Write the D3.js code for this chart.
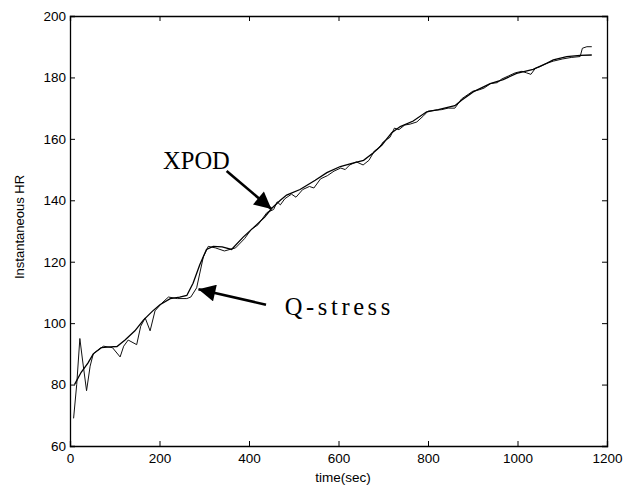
<!DOCTYPE html>
<html>
<head>
<meta charset="utf-8">
<script src="https://cdn.jsdelivr.net/npm/d3@7"></script>
<style>
  body { margin: 0; background: #fff; }
  svg { display: block; }
  .tick text { font-family: "Liberation Sans", Arial, sans-serif; font-size: 13.5px; fill: #000; }
</style>
</head>
<body>
<svg></svg>
<script>
  let w = 633;
  let h = 490;
  let margin = {left: 70, right: 26, top: 16, bottom: 44};

// data: [time (sec), instantaneous HR]
const xpodTime = [10, 25, 40, 52, 70, 90, 105, 123, 145, 164, 185, 201, 224, 245, 261, 275, 290, 305, 320, 340, 361, 387, 413, 435, 451, 470, 484, 514, 548, 574, 604, 630, 656, 678, 697, 719, 738, 767, 797, 823, 860, 875, 901, 939, 968, 998, 1035, 1065, 1080, 1110, 1140, 1166];
const xpodHR = [80, 84, 87, 90, 92, 92.3, 92.4, 94.5, 97.5, 101, 104, 106, 108, 108.5, 109, 113, 119, 124, 125, 124.8, 124, 128, 131.5, 134.5, 137.4, 140, 141.7, 143.5, 146.5, 149, 151, 152, 153, 155.5, 158, 162, 164, 165.8, 168.8, 169.5, 170.8, 172.6, 175.3, 178, 179.3, 181.3, 182.6, 184.6, 185.7, 186.8, 187.2, 187.3];

const qTime = [8, 15, 22, 28, 37, 45, 52, 65, 75, 95, 112, 120, 130, 149, 158, 168, 179, 190, 205, 220, 240, 261, 270, 283, 298, 309, 325, 345, 370, 390, 405, 420, 440, 455, 463, 470, 480, 495, 505, 520, 535, 545, 560, 575, 590, 605, 615, 625, 640, 655, 668, 680, 690, 700, 715, 725, 735, 748, 760, 775, 790, 800, 815, 830, 845, 860, 875, 890, 900, 915, 925, 940, 955, 965, 980, 995, 1010, 1020, 1030, 1040, 1050, 1065, 1080, 1100, 1120, 1140, 1145, 1155, 1166];
const qHR = [69, 80, 95, 88, 78, 86, 90, 91.5, 92.5, 92, 89, 92.5, 94.5, 93, 99, 101.7, 97.5, 104, 106.5, 108.5, 108, 108, 108.5, 111.5, 121.6, 125, 124.5, 123.5, 124.5, 127.5, 130.5, 132, 136, 137, 139.5, 138.5, 140.5, 142, 141, 143.5, 144.5, 144, 147, 148, 149.5, 150.5, 150, 151.5, 152.5, 151.5, 153, 156, 157, 159, 160.5, 163.5, 163, 164.5, 164.8, 165.5, 167.5, 169, 169.3, 169.5, 170, 170, 173, 174.5, 175.5, 176, 176.5, 178, 178.3, 179.5, 180.5, 181.5, 182, 181.5, 181, 183, 183.5, 184.6, 185.3, 186, 186.5, 186.8, 189.5, 190, 190];

const xTicks = [0, 200, 400, 600, 800, 1000, 1200];
const yTicks = [60, 80, 100, 120, 140, 160, 180, 200];

// annotations in data units: [label, text x, text y, arrow tail, arrow tip]
const notes = [
  {label: 'XPOD', tx: 208, ty: 150.2, from: [350, 149.5], to: [450, 137.2], spacing: 0},
  {label: 'Q-stress', tx: 480, ty: 102.7, from: [438, 106], to: [287, 111], spacing: 3.6}
];

const svg = d3.select('svg')
  .attr('width', w)
  .attr('height', h)

svg.append('rect').attr('width', w).attr('height', h).attr('fill', '#fff')

// scales
const xScale = d3.scaleLinear()
  .domain([0, 1200])
  .range([margin.left, w - margin.right])

const yScale = d3.scaleLinear()
  .domain([60, 200])
  .range([h - margin.bottom, margin.top])

// axes, matlab style box with inward ticks
const xAxis = d3.axisBottom(xScale).tickValues(xTicks).tickSize(-5).tickPadding(7).tickFormat(d3.format('d'))
svg.append('g')
  .attr('transform', 'translate(0,' + (h - margin.bottom) + ')')
  .attr('id', 'x-axis')
  .call(xAxis)

svg.append('g')
  .attr('transform', 'translate(0,' + margin.top + ')')
  .call(d3.axisTop(xScale).tickValues(xTicks).tickSize(-5).tickFormat(''))

const yAxis = d3.axisLeft(yScale).tickValues(yTicks).tickSize(-5).tickPadding(4)
svg.append('g')
  .attr('transform', 'translate(' + margin.left + ',0)')
  .attr('id', 'y-axis')
  .call(yAxis)

svg.append('g')
  .attr('transform', 'translate(' + (w - margin.right) + ',0)')
  .call(d3.axisRight(yScale).tickValues(yTicks).tickSize(-5).tickFormat(''))

svg.selectAll('.domain').attr('stroke', '#000').attr('stroke-width', 1.3)
svg.selectAll('.tick line').attr('stroke', '#000')

// axis titles
svg.append('text')
  .attr('x', xScale(610))
  .attr('y', 482)
  .attr('text-anchor', 'middle')
  .style('font-family', '"Liberation Sans", Arial, sans-serif')
  .style('font-size', '13.5px')
  .text('time(sec)')

svg.append('text')
  .attr('transform', 'translate(24,' + yScale(131.3) + ') rotate(-90)')
  .attr('text-anchor', 'middle')
  .style('font-family', '"Liberation Sans", Arial, sans-serif')
  .style('font-size', '13px')
  .text('Instantaneous HR')

// lines
const line = d3.line()
  .x(d => xScale(d[0]))
  .y(d => yScale(d[1]))

svg.append('path')
  .datum(qTime.map((t, i) => [t, qHR[i]]))
  .attr('d', line)
  .attr('fill', 'none')
  .attr('stroke', '#111')
  .attr('stroke-width', 1)

svg.append('path')
  .datum(xpodTime.map((t, i) => [t, xpodHR[i]]))
  .attr('d', line)
  .attr('fill', 'none')
  .attr('stroke', '#000')
  .attr('stroke-width', 1.3)

// arrows
svg.append('defs').append('marker')
  .attr('id', 'head')
  .attr('viewBox', '0 0 10 10')
  .attr('refX', 10).attr('refY', 5)
  .attr('markerWidth', 7.5).attr('markerHeight', 6.5)
  .attr('markerUnits', 'strokeWidth')
  .attr('orient', 'auto')
  .append('path')
  .attr('d', 'M0,0 L10,5 L0,10 Z')
  .attr('fill', '#000')

notes.forEach(n => {
  svg.append('line')
    .attr('x1', xScale(n.from[0])).attr('y1', yScale(n.from[1]))
    .attr('x2', xScale(n.to[0])).attr('y2', yScale(n.to[1]))
    .attr('stroke', '#000')
    .attr('stroke-width', 2.6)
    .attr('marker-end', 'url(#head)')

  svg.append('text')
    .attr('x', xScale(n.tx))
    .attr('y', yScale(n.ty))
    .style('font-family', '"Liberation Serif", "Times New Roman", serif')
    .style('font-size', '24.5px')
    .style('letter-spacing', n.spacing + 'px')
    .text(n.label)
})
</script>
</body>
</html>
